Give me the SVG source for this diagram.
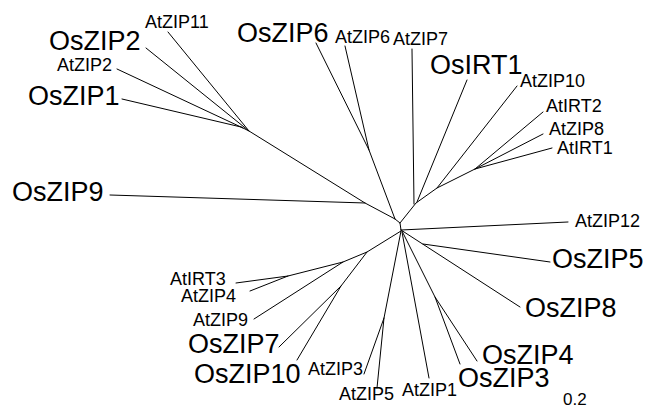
<svg xmlns="http://www.w3.org/2000/svg" width="646" height="408" viewBox="0 0 646 408">
<style>
.b{stroke:#000;stroke-width:1;fill:none;stroke-linecap:round;stroke-linejoin:round}
text{font-family:"Liberation Sans",Arial,Helvetica,sans-serif;fill:#000}
.L{font-size:27px}
.S{font-size:18px}
.sc{font-size:17px}
</style>
<rect width="646" height="408" fill="#fff"/>
<g id="branches" class="b">
<polyline points="146,48 249,131"/>
<polyline points="168,32 249,131"/>
<polyline points="117,69 243,128"/>
<polyline points="122,99 241,127"/>
<polyline points="241,127 249,131 365,203 395,219"/>
<polyline points="110,195 365,203"/>
<polyline points="316,43 369,150 395,219"/>
<polyline points="345,46 369,150"/>
<polyline points="395,219 400,223 401,230"/>
<polyline points="400,223 416,203 437,188 475,169"/>
<polyline points="412,49 414,204"/>
<polyline points="467,80 417,202"/>
<polyline points="517,86 437,188"/>
<polyline points="543,112 475,169"/>
<polyline points="543,134 475,169"/>
<polyline points="552,148 475,169"/>
<polyline points="401,230 568,222"/>
<polyline points="401,230 520,307"/>
<polyline points="423,244 550,262"/>
<polyline points="402,232 429,378"/>
<polyline points="402,231 435,297 460,364"/>
<polyline points="435,297 477,361"/>
<polyline points="401,231 384,318 364,374"/>
<polyline points="384,318 377,388"/>
<polyline points="401,231 367,252 343,262 288,276 236,283"/>
<polyline points="288,276 250,291"/>
<polyline points="343,262 254,319"/>
<polyline points="367,252 341,286 279,347"/>
<polyline points="341,286 297,360"/>
</g>
<g id="OsZIP2"><text class="L" x="49" y="50">OsZIP2</text></g>
<g id="AtZIP11"><text class="S" x="145" y="28">AtZIP11</text></g>
<g id="AtZIP2"><text class="S" x="57" y="71">AtZIP2</text></g>
<g id="OsZIP1"><text class="L" x="28" y="105">OsZIP1</text></g>
<g id="OsZIP9"><text class="L" x="12" y="201">OsZIP9</text></g>
<g id="OsZIP6"><text class="L" x="237" y="42">OsZIP6</text></g>
<g id="AtZIP6"><text class="S" x="335" y="43">AtZIP6</text></g>
<g id="AtZIP7"><text class="S" x="393" y="45">AtZIP7</text></g>
<g id="OsIRT1"><text class="L" x="430" y="74">OsIRT1</text></g>
<g id="AtZIP10"><text class="S" x="520" y="87">AtZIP10</text></g>
<g id="AtIRT2"><text class="S" x="546" y="112">AtIRT2</text></g>
<g id="AtZIP8"><text class="S" x="549" y="135">AtZIP8</text></g>
<g id="AtIRT1"><text class="S" x="557" y="154">AtIRT1</text></g>
<g id="AtZIP12"><text class="S" x="575" y="227">AtZIP12</text></g>
<g id="OsZIP5"><text class="L" x="552" y="268">OsZIP5</text></g>
<g id="OsZIP8"><text class="L" x="525" y="317">OsZIP8</text></g>
<g id="OsZIP4"><text class="L" x="482" y="364">OsZIP4</text></g>
<g id="OsZIP3"><text class="L" x="458" y="387">OsZIP3</text></g>
<g id="AtZIP1"><text class="S" x="402" y="396">AtZIP1</text></g>
<g id="AtZIP5"><text class="S" x="339" y="400">AtZIP5</text></g>
<g id="AtZIP3"><text class="S" x="308" y="375">AtZIP3</text></g>
<g id="OsZIP10"><text class="L" x="194" y="383">OsZIP10</text></g>
<g id="OsZIP7"><text class="L" x="188" y="353">OsZIP7</text></g>
<g id="AtZIP9"><text class="S" x="193" y="326">AtZIP9</text></g>
<g id="AtZIP4"><text class="S" x="181" y="302">AtZIP4</text></g>
<g id="AtIRT3"><text class="S" x="170" y="285">AtIRT3</text></g>
<g id="scale"><text class="sc" x="563" y="405">0.2</text></g>
</svg>
